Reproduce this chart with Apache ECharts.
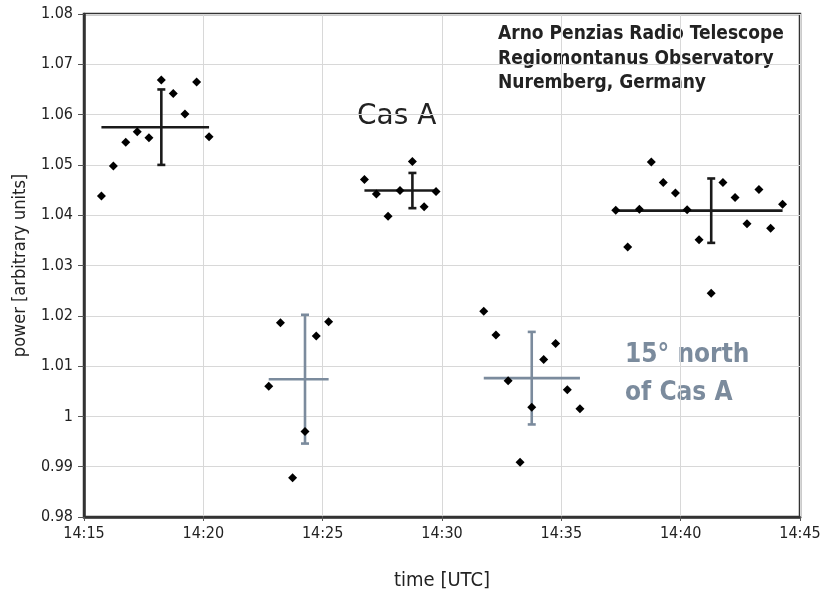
<!DOCTYPE html>
<html>
<head>
<meta charset="utf-8">
<script src="https://cdn.jsdelivr.net/npm/echarts@6/dist/echarts.min.js"></script>
<style>html,body{margin:0;padding:0;background:#fff}#c{width:826px;height:591px}</style>
</head>
<body>
<div id="c"></div>
<script>
// minutes after 14:15 UTC
const xTickLabels = ['14:15','14:20','14:25','14:30','14:35','14:40','14:45'];
const casA1T = [0.73,1.23,1.75,2.23,2.72,3.24,3.74,4.23,4.72,5.24];
const casA1V = [1.0438,1.0498,1.0545,1.0566,1.0554,1.0669,1.0642,1.0601,1.0665,1.0556];
const casA2T = [11.75,12.25,12.74,13.24,13.76,14.25,14.75];
const casA2V = [1.0471,1.0442,1.0398,1.0449,1.0507,1.0417,1.0447];
const casA3T = [22.28,22.78,23.27,23.77,24.27,24.78,25.27,25.77,26.28,26.77,27.28,27.78,28.28,28.77,29.27];
const casA3V = [1.0410,1.0337,1.0412,1.0506,1.0465,1.0444,1.0411,1.0351,1.0245,1.0465,1.0435,1.0383,1.0451,1.0374,1.0422];
const off1T = [7.74,8.23,8.74,9.26,9.73,10.25];
const off1V = [1.0060,1.0186,0.9878,0.9970,1.0160,1.0188];
const off2T = [16.75,17.26,17.77,18.27,18.76,19.26,19.76,20.25,20.78];
const off2V = [1.0209,1.0162,1.0071,0.9909,1.0018,1.0113,1.0145,1.0053,1.0015];
// crosses: [tStart, tEnd, tMean, mean, err]
const casACross = [[0.73,5.24,3.24,1.0575,0.0075],[11.75,14.75,13.76,1.0449,0.0035],[22.28,29.27,26.28,1.0409,0.0064]];
const offCross = [[7.74,10.25,9.26,1.0074,0.0128],[16.75,20.78,18.76,1.0076,0.0092]];

const FONT = "'DejaVu Sans Condensed','Liberation Sans Narrow',Roboto,sans-serif";
const GRAY = '#7b8b9d';
const zip = (a,b) => a.map((v,i)=>[v,b[i]]);

function crossRender(color){
  return function(params, api){
    const t0=api.value(0), t1=api.value(1), tm=api.value(2), m=api.value(3), e=api.value(4);
    const a=api.coord([t0,m]), b=api.coord([t1,m]);
    const top=api.coord([tm,m+e]), bot=api.coord([tm,m-e]);
    const st={stroke:color,lineWidth:2.6};
    const cw=4;
    return {type:'group',children:[
      {type:'line',shape:{x1:a[0],y1:a[1],x2:b[0],y2:b[1]},style:st},
      {type:'line',shape:{x1:top[0],y1:top[1],x2:bot[0],y2:bot[1]},style:st},
      {type:'line',shape:{x1:top[0]-cw,y1:top[1],x2:top[0]+cw,y2:top[1]},style:st},
      {type:'line',shape:{x1:bot[0]-cw,y1:bot[1],x2:bot[0]+cw,y2:bot[1]},style:st}
    ]};
  };
}

const chart = echarts.init(document.getElementById('c'));
const sc = (data) => ({type:'scatter',data,symbol:'diamond',symbolSize:9,itemStyle:{color:'#000',opacity:1},z:5,silent:true});
chart.setOption({
  animation:false,
  textStyle:{fontFamily:FONT},
  grid:{left:84,right:26,top:14,bottom:74,outerBoundsMode:'none',containLabel:false,show:true,borderColor:'#333',borderWidth:2.5,backgroundColor:'#fff'},
  xAxis:{type:'value',min:0,max:30,interval:5,
    name:'time [UTC]',nameLocation:'middle',nameGap:54,
    nameTextStyle:{fontFamily:FONT,fontSize:20,color:'#222'},
    axisLine:{show:true,lineStyle:{color:'#333',width:2.5}},
    axisTick:{show:true,length:4,lineStyle:{color:'#555'}},
    axisLabel:{fontFamily:FONT,fontSize:16,color:'#222',margin:9,formatter:v=>xTickLabels[Math.round(v/5)]},
    splitLine:{show:true,lineStyle:{color:'#d8d8d8',width:1}}},
  yAxis:{type:'value',min:0.98,max:1.08,interval:0.01,
    name:'power [arbitrary units]',nameLocation:'middle',nameGap:55,
    nameTextStyle:{fontFamily:FONT,fontSize:18,color:'#222'},
    axisLine:{show:true,lineStyle:{color:'#333',width:2.5}},
    axisTick:{show:true,length:6,lineStyle:{color:'#555'}},
    axisLabel:{fontFamily:FONT,fontSize:16,color:'#222',margin:11,formatter:v=>String(parseFloat(v.toFixed(2)))},
    splitLine:{show:true,lineStyle:{color:'#d8d8d8',width:1}}},
  graphic:[
    {type:'text',left:498,top:22,style:{text:'Arno Penzias Radio Telescope\nRegiomontanus Observatory\nNuremberg, Germany',font:"bold 19px "+FONT,fill:'#222',lineHeight:24.5}},
    {type:'text',left:357,top:103,style:{text:'Cas A',font:"28px 'DejaVu Sans',sans-serif",fill:'#222'}},
    {type:'text',left:625,top:336,style:{text:'15° north\nof Cas A',font:"bold 26px "+FONT,fill:GRAY,lineHeight:38}}
  ],
  series:[
    {type:'custom',data:casACross,renderItem:crossRender('#1a1a1a'),z:3,silent:true},
    {type:'custom',data:offCross,renderItem:crossRender(GRAY),z:3,silent:true},
    sc(zip(casA1T,casA1V)),sc(zip(casA2T,casA2V)),sc(zip(casA3T,casA3V)),
    sc(zip(off1T,off1V)),sc(zip(off2T,off2V))
  ]
});
</script>
</body>
</html>
